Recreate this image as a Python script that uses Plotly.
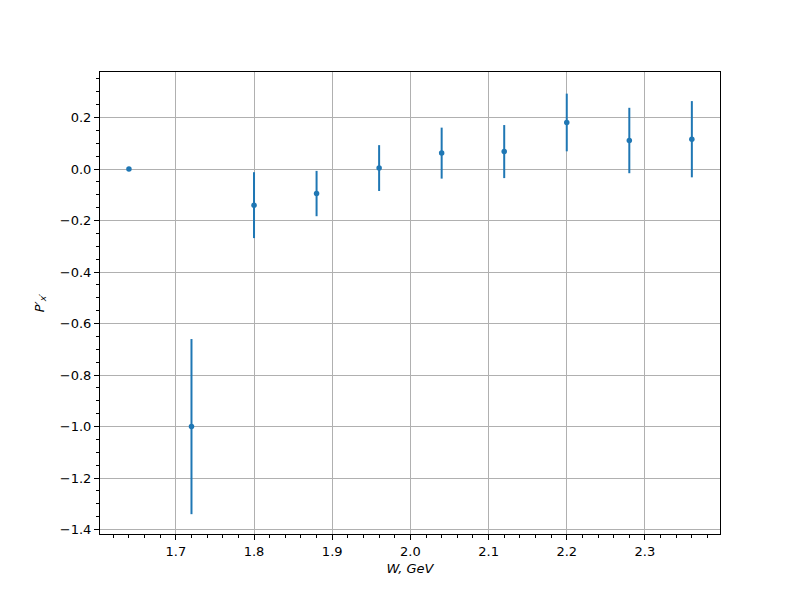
import plotly.graph_objects as go

W = [1.64, 1.72, 1.80, 1.88, 1.96, 2.04, 2.12, 2.20, 2.28, 2.36]
P = [0.0, -1.0, -0.14, -0.095, 0.004, 0.062, 0.068, 0.181, 0.111, 0.116]
P_err = [0.0, 0.34, 0.128, 0.088, 0.089, 0.099, 0.103, 0.112, 0.127, 0.148]

C = "#1f77b4"
fig = go.Figure()
fig.add_trace(go.Scatter(
    x=W, y=P, mode="markers",
    marker=dict(color=C, size=5.5),
    error_y=dict(type="data", array=P_err, visible=True, color=C, thickness=2, width=0),
    showlegend=False,
))

font = dict(family="DejaVu Sans", size=13, color="black")
axis_common = dict(
    showline=True, linecolor="black", linewidth=1, mirror=True,
    ticks="outside", ticklen=5, tickwidth=1, tickcolor="black",
    showgrid=True, gridcolor="#b0b0b0", gridwidth=1,
    zeroline=False, tickfont=font,
)
fig.update_xaxes(
    range=[1.603, 2.396], tick0=1.7, dtick=0.1, tickformat=".1f",
    minor=dict(ticks="outside", ticklen=3, tickcolor="black", dtick=0.02, tick0=1.7, showgrid=False),
    title=dict(text="<i>W, GeV</i>", font=font, standoff=6),
    **axis_common,
)
fig.update_yaxes(
    range=[-1.417, 0.377], tick0=0, dtick=0.2, tickformat=".1f",
    minor=dict(ticks="outside", ticklen=3, tickcolor="black", dtick=0.05, tick0=0, showgrid=False),
    title=dict(text="<i>P′</i><sub><i>x′</i></sub>", font=font, standoff=12),
    **axis_common,
)
fig.update_layout(
    width=800, height=600,
    margin=dict(l=92, r=88, t=64, b=74),
    plot_bgcolor="white", paper_bgcolor="white",
    font=font,
)
fig.write_html("out.html")
